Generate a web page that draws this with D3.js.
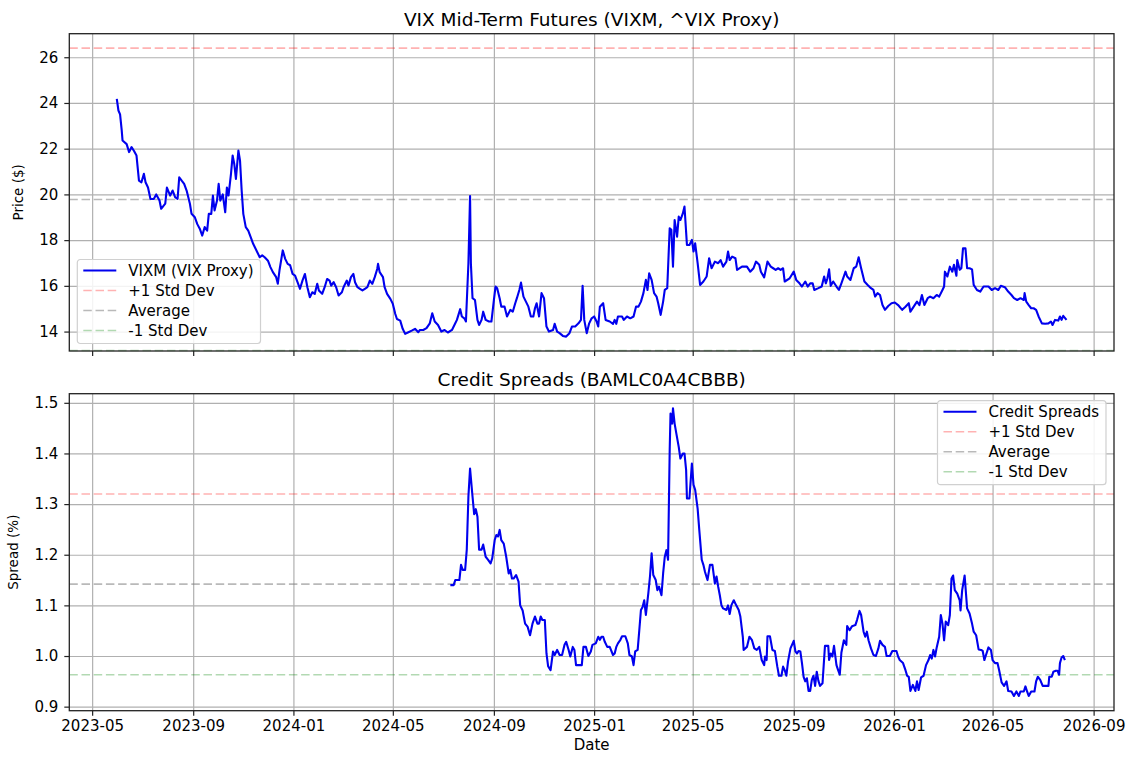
<!DOCTYPE html>
<html>
<head>
<meta charset="utf-8">
<script src="https://cdn.jsdelivr.net/npm/d3@7"></script>
<style>
  body { margin: 0; background: #fff; }
  text { font-family: "DejaVu Sans", sans-serif; fill: #000; }
</style>
</head>
<body>
<svg id="chart" width="1130" height="766"></svg>
<script>
// VIXM closing price
const vixSeries = [
  ["2023-05-31",24.18],["2023-06-02",23.67],["2023-06-04",23.5],["2023-06-06",22.8],["2023-06-07",22.36],["2023-06-12",22.2],
  ["2023-06-15",21.85],["2023-06-18",22.07],["2023-06-21",21.9],["2023-06-24",21.7],["2023-06-27",20.6],["2023-06-30",20.53],
  ["2023-07-03",20.9],["2023-07-05",20.53],["2023-07-08",20.3],["2023-07-11",19.8],["2023-07-15",19.8],["2023-07-18",20.0],
  ["2023-07-22",19.73],["2023-07-24",19.37],["2023-07-29",19.6],["2023-07-31",20.3],["2023-08-04",19.95],["2023-08-07",20.17],
  ["2023-08-10",19.88],["2023-08-13",19.8],["2023-08-15",20.75],["2023-08-18",20.6],["2023-08-21",20.46],["2023-08-24",20.17],
  ["2023-08-28",19.59],["2023-08-30",19.15],["2023-09-03",19.0],["2023-09-06",18.7],["2023-09-09",18.5],["2023-09-12",18.2],
  ["2023-09-15",18.57],["2023-09-18",18.42],["2023-09-20",19.15],["2023-09-23",19.15],["2023-09-25",19.95],["2023-09-27",19.3],
  ["2023-09-30",19.73],["2023-10-02",20.46],["2023-10-04",19.73],["2023-10-07",20.0],["2023-10-10",19.22],["2023-10-12",20.3],
  ["2023-10-14",19.95],["2023-10-17",20.9],["2023-10-19",21.7],["2023-10-21",21.33],["2023-10-23",20.68],["2023-10-26",21.92],
  ["2023-10-28",21.48],["2023-10-30",20.17],["2023-11-01",19.15],["2023-11-04",18.57],["2023-11-07",18.42],["2023-11-10",18.13],
  ["2023-11-13",17.84],["2023-11-17",17.55],["2023-11-21",17.25],["2023-11-24",17.33],["2023-11-27",17.25],["2023-12-01",17.1],
  ["2023-12-04",16.82],["2023-12-07",16.6],["2023-12-11",16.38],["2023-12-13",16.09],["2023-12-15",16.67],["2023-12-19",17.55],
  ["2023-12-22",17.18],["2023-12-25",16.96],["2023-12-28",16.9],["2023-12-31",16.52],["2024-01-03",16.45],["2024-01-06",16.16],
  ["2024-01-09",15.87],["2024-01-12",16.23],["2024-01-15",16.52],["2024-01-18",15.94],["2024-01-21",15.5],["2024-01-24",15.72],
  ["2024-01-27",15.65],["2024-01-30",16.09],["2024-02-01",15.8],["2024-02-05",15.65],["2024-02-08",15.94],["2024-02-11",16.3],
  ["2024-02-14",16.23],["2024-02-16",16.01],["2024-02-19",16.16],["2024-02-22",15.94],["2024-02-25",15.58],["2024-02-29",15.72],
  ["2024-03-02",15.94],["2024-03-06",16.23],["2024-03-08",16.01],["2024-03-11",16.38],["2024-03-14",16.52],["2024-03-16",16.16],
  ["2024-03-19",15.94],["2024-03-22",15.87],["2024-03-25",15.8],["2024-03-28",15.87],["2024-03-31",15.94],["2024-04-03",16.23],
  ["2024-04-06",16.09],["2024-04-09",16.38],["2024-04-12",16.74],["2024-04-13",16.96],["2024-04-15",16.6],["2024-04-19",16.38],
  ["2024-04-21",15.94],["2024-04-24",15.65],["2024-04-28",15.43],["2024-05-01",15.21],["2024-05-04",14.77],["2024-05-06",14.55],
  ["2024-05-10",14.48],["2024-05-13",14.12],["2024-05-16",13.9],["2024-05-20",13.97],["2024-05-24",14.04],["2024-05-28",14.12],
  ["2024-06-01",13.97],["2024-06-03",14.07],["2024-06-07",14.07],["2024-06-11",14.15],["2024-06-15",14.36],["2024-06-18",14.8],
  ["2024-06-21",14.44],["2024-06-25",14.29],["2024-06-29",14.0],["2024-07-03",14.07],["2024-07-07",13.96],["2024-07-12",14.07],
  ["2024-07-16",14.36],["2024-07-18",14.51],["2024-07-22",14.98],["2024-07-24",14.66],["2024-07-27",14.58],["2024-07-29",14.44],
  ["2024-08-01",16.99],["2024-08-03",19.93],["2024-08-04",16.99],["2024-08-06",15.46],["2024-08-09",15.38],["2024-08-12",14.51],
  ["2024-08-14",14.29],["2024-08-17",14.51],["2024-08-19",14.87],["2024-08-22",14.51],["2024-08-26",14.44],["2024-08-29",14.44],
  ["2024-09-01",15.38],["2024-09-03",15.97],["2024-09-05",15.9],["2024-09-08",15.46],["2024-09-10",15.09],["2024-09-14",15.09],
  ["2024-09-17",14.66],["2024-09-21",14.95],["2024-09-24",14.87],["2024-09-27",15.24],["2024-09-29",15.46],["2024-10-02",15.82],
  ["2024-10-04",16.14],["2024-10-07",15.53],["2024-10-10",15.31],["2024-10-13",15.09],["2024-10-16",14.66],["2024-10-19",14.66],
  ["2024-10-21",15.02],["2024-10-23",15.24],["2024-10-26",14.66],["2024-10-29",15.68],["2024-11-01",15.46],["2024-11-04",14.22],
  ["2024-11-07",14.0],["2024-11-12",14.07],["2024-11-14",14.34],["2024-11-17",14.0],["2024-11-20",13.93],["2024-11-24",13.81],
  ["2024-11-28",13.78],["2024-12-02",13.93],["2024-12-05",14.22],["2024-12-09",14.22],["2024-12-13",14.36],["2024-12-16",14.51],
  ["2024-12-18",16.0],["2024-12-20",14.51],["2024-12-23",13.93],["2024-12-26",14.36],["2024-12-29",14.58],["2025-01-01",14.66],
  ["2025-01-04",14.44],["2025-01-06",14.22],["2025-01-08",15.09],["2025-01-12",15.24],["2025-01-15",14.51],["2025-01-20",14.44],
  ["2025-01-24",14.34],["2025-01-26",14.51],["2025-01-28",14.34],["2025-01-30",14.66],["2025-02-04",14.66],["2025-02-06",14.51],
  ["2025-02-10",14.66],["2025-02-14",14.58],["2025-02-18",14.66],["2025-02-21",15.09],["2025-02-24",15.09],["2025-02-27",15.31],
  ["2025-03-02",15.68],["2025-03-05",16.26],["2025-03-07",15.82],["2025-03-09",16.55],["2025-03-12",16.26],["2025-03-15",15.68],
  ["2025-03-18",15.53],["2025-03-20",15.24],["2025-03-23",14.73],["2025-03-26",15.31],["2025-03-28",15.82],["2025-03-31",15.9],
  ["2025-04-03",18.52],["2025-04-05",18.45],["2025-04-07",16.84],["2025-04-09",18.88],["2025-04-12",18.15],["2025-04-14",19.03],
  ["2025-04-16",18.88],["2025-04-19",19.17],["2025-04-21",19.47],["2025-04-24",17.79],["2025-04-27",17.79],["2025-04-30",18.01],
  ["2025-05-02",17.5],["2025-05-04",17.86],["2025-05-07",16.99],["2025-05-10",16.04],["2025-05-14",16.19],["2025-05-18",16.41],
  ["2025-05-21",17.21],["2025-05-24",16.77],["2025-05-28",17.06],["2025-06-01",16.99],["2025-06-04",17.13],["2025-06-07",16.84],
  ["2025-06-11",17.06],["2025-06-13",17.5],["2025-06-15",17.13],["2025-06-18",17.28],["2025-06-22",17.21],["2025-06-24",16.7],
  ["2025-06-30",16.84],["2025-07-06",16.84],["2025-07-10",16.62],["2025-07-14",16.77],["2025-07-17",17.06],["2025-07-21",16.92],
  ["2025-07-23",16.62],["2025-07-27",16.37],["2025-07-31",17.06],["2025-08-04",16.84],["2025-08-07",16.77],["2025-08-10",16.7],
  ["2025-08-13",16.77],["2025-08-16",16.7],["2025-08-19",16.77],["2025-08-21",16.19],["2025-08-27",16.33],["2025-09-01",16.62],
  ["2025-09-04",16.26],["2025-09-08",16.11],["2025-09-11",15.97],["2025-09-15",16.19],["2025-09-18",15.97],["2025-09-21",16.11],
  ["2025-09-24",16.11],["2025-09-26",15.82],["2025-10-01",15.9],["2025-10-05",15.97],["2025-10-08",16.41],["2025-10-10",16.11],
  ["2025-10-12",16.33],["2025-10-14",16.72],["2025-10-16",16.0],["2025-10-19",16.19],["2025-10-23",15.97],["2025-10-26",15.82],
  ["2025-10-29",16.11],["2025-11-03",16.62],["2025-11-05",16.41],["2025-11-09",16.26],["2025-11-13",16.77],["2025-11-16",16.84],
  ["2025-11-19",17.25],["2025-11-22",16.77],["2025-11-26",16.19],["2025-11-30",16.04],["2025-12-04",15.9],["2025-12-07",15.82],
  ["2025-12-09",15.53],["2025-12-12",15.68],["2025-12-15",15.6],["2025-12-18",15.16],["2025-12-21",14.95],["2025-12-25",15.12],
  ["2025-12-29",15.24],["2026-01-02",15.27],["2026-01-06",15.16],["2026-01-11",14.95],["2026-01-15",15.09],["2026-01-19",15.24],
  ["2026-01-21",14.87],["2026-01-25",15.09],["2026-01-29",15.31],["2026-02-01",15.16],["2026-02-04",15.6],["2026-02-07",15.16],
  ["2026-02-11",15.46],["2026-02-14",15.53],["2026-02-18",15.46],["2026-02-22",15.6],["2026-02-25",15.53],["2026-03-01",15.82],
  ["2026-03-03",15.97],["2026-03-04",16.62],["2026-03-07",16.41],["2026-03-10",16.84],["2026-03-13",16.62],["2026-03-15",16.92],
  ["2026-03-18",16.44],["2026-03-19",17.13],["2026-03-22",16.7],["2026-03-24",16.77],["2026-03-26",17.64],["2026-03-29",17.64],
  ["2026-03-31",16.77],["2026-04-03",16.77],["2026-04-06",16.72],["2026-04-08",16.04],["2026-04-12",15.82],["2026-04-16",15.75],
  ["2026-04-20",15.97],["2026-04-26",15.97],["2026-04-30",15.82],["2026-05-04",15.9],["2026-05-08",15.82],["2026-05-11",16.0],
  ["2026-05-16",15.94],["2026-05-20",15.75],["2026-05-24",15.6],["2026-05-27",15.46],["2026-05-31",15.38],["2026-06-04",15.46],
  ["2026-06-08",15.38],["2026-06-09",15.68],["2026-06-11",15.31],["2026-06-14",15.16],["2026-06-17",15.02],["2026-06-20",15.02],
  ["2026-06-23",14.95],["2026-06-26",14.66],["2026-06-30",14.36],["2026-07-04",14.34],["2026-07-08",14.36],["2026-07-11",14.44],
  ["2026-07-13",14.29],["2026-07-16",14.51],["2026-07-20",14.48],["2026-07-22",14.66],["2026-07-24",14.51],["2026-07-26",14.69],
  ["2026-07-30",14.51]
];

// BAMLC0A4CBBB option-adjusted spread
const creditSeries = [
  ["2024-07-10",1.14],["2024-07-14",1.14],["2024-07-16",1.15],["2024-07-21",1.15],["2024-07-23",1.18],["2024-07-25",1.17],
  ["2024-07-28",1.17],["2024-07-30",1.21],["2024-08-01",1.315],["2024-08-03",1.37],["2024-08-06",1.315],["2024-08-08",1.28],
  ["2024-08-10",1.29],["2024-08-12",1.275],["2024-08-14",1.21],["2024-08-17",1.21],["2024-08-19",1.22],["2024-08-22",1.196],
  ["2024-08-25",1.19],["2024-08-28",1.183],["2024-08-30",1.193],["2024-09-02",1.229],["2024-09-04",1.239],["2024-09-06",1.236],
  ["2024-09-08",1.249],["2024-09-10",1.229],["2024-09-13",1.222],["2024-09-16",1.196],["2024-09-19",1.163],["2024-09-21",1.17],
  ["2024-09-23",1.153],["2024-09-25",1.153],["2024-09-28",1.16],["2024-10-01",1.147],["2024-10-03",1.10],["2024-10-06",1.09],
  ["2024-10-09",1.064],["2024-10-12",1.058],["2024-10-15",1.041],["2024-10-18",1.064],["2024-10-21",1.078],["2024-10-24",1.064],
  ["2024-10-26",1.064],["2024-10-28",1.078],["2024-10-30",1.071],["2024-11-02",1.071],["2024-11-04",1.005],["2024-11-06",0.98],
  ["2024-11-09",0.972],["2024-11-12",1.009],["2024-11-14",1.002],["2024-11-17",1.012],["2024-11-20",1.002],["2024-11-23",1.002],
  ["2024-11-26",1.022],["2024-11-28",1.028],["2024-12-01",1.012],["2024-12-03",0.999],["2024-12-06",1.018],["2024-12-08",1.012],
  ["2024-12-10",0.982],["2024-12-14",0.982],["2024-12-17",0.982],["2024-12-19",1.018],["2024-12-22",1.018],["2024-12-25",1.0],
  ["2024-12-28",1.009],["2024-12-30",1.022],["2025-01-03",1.025],["2025-01-06",1.038],["2025-01-08",1.032],["2025-01-10",1.038],
  ["2025-01-12",1.038],["2025-01-14",1.028],["2025-01-17",1.018],["2025-01-20",1.018],["2025-01-24",1.002],["2025-01-26",1.005],
  ["2025-01-28",1.018],["2025-01-30",1.025],["2025-02-02",1.032],["2025-02-04",1.039],["2025-02-08",1.039],["2025-02-11",1.025],
  ["2025-02-13",1.002],["2025-02-16",0.999],["2025-02-18",0.982],["2025-02-20",1.009],["2025-02-23",1.012],["2025-02-25",1.051],
  ["2025-02-27",1.091],["2025-03-01",1.097],["2025-03-03",1.11],["2025-03-05",1.081],["2025-03-08",1.124],["2025-03-10",1.157],
  ["2025-03-12",1.203],["2025-03-14",1.16],["2025-03-17",1.15],["2025-03-19",1.13],["2025-03-21",1.137],["2025-03-24",1.12],
  ["2025-03-26",1.163],["2025-03-28",1.196],["2025-03-30",1.209],["2025-04-01",1.19],["2025-04-03",1.407],["2025-04-04",1.479],
  ["2025-04-06",1.459],["2025-04-07",1.489],["2025-04-09",1.459],["2025-04-11",1.44],["2025-04-14",1.413],["2025-04-16",1.39],
  ["2025-04-19",1.4],["2025-04-21",1.4],["2025-04-23",1.367],["2025-04-24",1.311],["2025-04-27",1.311],["2025-04-30",1.38],
  ["2025-05-02",1.338],["2025-05-04",1.328],["2025-05-07",1.291],["2025-05-09",1.249],["2025-05-12",1.19],["2025-05-14",1.18],
  ["2025-05-16",1.166],["2025-05-19",1.15],["2025-05-22",1.18],["2025-05-25",1.18],["2025-05-28",1.143],["2025-05-30",1.157],
  ["2025-06-01",1.137],["2025-06-03",1.12],["2025-06-05",1.10],["2025-06-07",1.094],["2025-06-11",1.091],["2025-06-13",1.10],
  ["2025-06-15",1.083],["2025-06-17",1.10],["2025-06-20",1.11],["2025-06-23",1.10],["2025-06-26",1.091],["2025-06-28",1.078],
  ["2025-07-01",1.038],["2025-07-02",1.012],["2025-07-06",1.018],["2025-07-09",1.038],["2025-07-12",1.032],["2025-07-15",1.015],
  ["2025-07-18",1.012],["2025-07-21",1.018],["2025-07-24",0.992],["2025-07-27",0.982],["2025-07-28",0.999],["2025-07-30",0.992],
  ["2025-07-31",1.039],["2025-08-03",1.039],["2025-08-06",1.012],["2025-08-09",1.01],["2025-08-12",0.979],["2025-08-14",0.961],
  ["2025-08-17",0.961],["2025-08-19",0.979],["2025-08-21",0.972],["2025-08-23",0.961],["2025-08-25",0.989],["2025-08-28",1.015],
  ["2025-09-01",1.03],["2025-09-03",1.009],["2025-09-05",1.005],["2025-09-07",1.01],["2025-09-09",1.009],["2025-09-11",0.986],
  ["2025-09-13",0.959],["2025-09-15",0.95],["2025-09-17",0.956],["2025-09-19",0.931],["2025-09-21",0.931],["2025-09-23",0.953],
  ["2025-09-25",0.961],["2025-09-27",0.941],["2025-09-29",0.969],["2025-10-01",0.951],["2025-10-03",0.941],["2025-10-06",0.946],
  ["2025-10-09",1.02],["2025-10-13",1.02],["2025-10-14",0.992],["2025-10-16",1.005],["2025-10-18",0.999],["2025-10-20",1.02],
  ["2025-10-23",0.982],["2025-10-25",0.972],["2025-10-27",0.963],["2025-10-29",1.007],["2025-11-01",1.031],["2025-11-04",1.022],
  ["2025-11-05",1.059],["2025-11-08",1.051],["2025-11-11",1.059],["2025-11-15",1.061],["2025-11-17",1.071],["2025-11-20",1.089],
  ["2025-11-22",1.081],["2025-11-25",1.048],["2025-11-27",1.038],["2025-11-29",1.048],["2025-12-01",1.031],["2025-12-04",1.015],
  ["2025-12-07",1.002],["2025-12-10",1.0],["2025-12-13",1.015],["2025-12-15",1.03],["2025-12-18",1.022],["2025-12-21",1.018],
  ["2025-12-23",1.0],["2025-12-27",1.0],["2025-12-30",1.01],["2026-01-04",1.01],["2026-01-06",0.999],["2026-01-08",0.992],
  ["2026-01-12",0.986],["2026-01-15",0.972],["2026-01-17",0.961],["2026-01-19",0.959],["2026-01-21",0.931],["2026-01-24",0.943],
  ["2026-01-27",0.931],["2026-01-29",0.95],["2026-01-31",0.933],["2026-02-03",0.958],["2026-02-06",0.961],["2026-02-09",0.982],
  ["2026-02-12",0.992],["2026-02-14",1.002],["2026-02-16",0.995],["2026-02-18",1.012],["2026-02-20",0.999],["2026-02-22",1.017],
  ["2026-02-25",1.038],["2026-02-27",1.081],["2026-03-01",1.064],["2026-03-03",1.031],["2026-03-05",1.068],["2026-03-08",1.061],
  ["2026-03-10",1.081],["2026-03-12",1.153],["2026-03-14",1.159],["2026-03-16",1.13],["2026-03-19",1.123],["2026-03-22",1.11],
  ["2026-03-23",1.09],["2026-03-25",1.13],["2026-03-28",1.159],["2026-03-31",1.094],["2026-04-03",1.084],["2026-04-06",1.064],
  ["2026-04-08",1.048],["2026-04-11",1.041],["2026-04-14",1.013],["2026-04-17",1.012],["2026-04-19",1.01],["2026-04-21",0.992],
  ["2026-04-23",1.002],["2026-04-26",1.017],["2026-04-29",1.012],["2026-05-01",0.992],["2026-05-04",0.986],["2026-05-07",0.986],
  ["2026-05-09",0.972],["2026-05-12",0.948],["2026-05-15",0.941],["2026-05-18",0.95],["2026-05-20",0.931],["2026-05-24",0.93],
  ["2026-05-27",0.921],["2026-05-30",0.93],["2026-06-02",0.921],["2026-06-04",0.93],["2026-06-08",0.93],["2026-06-10",0.94],
  ["2026-06-12",0.93],["2026-06-14",0.921],["2026-06-17",0.93],["2026-06-21",0.93],["2026-06-23",0.95],["2026-06-25",0.959],
  ["2026-06-28",0.953],["2026-07-01",0.941],["2026-07-05",0.941],["2026-07-08",0.941],["2026-07-09",0.959],["2026-07-12",0.959],
  ["2026-07-14",0.969],["2026-07-17",0.971],["2026-07-19",0.971],["2026-07-21",0.963],["2026-07-22",0.986],["2026-07-24",0.997],
  ["2026-07-26",1.0],["2026-07-28",0.992]
];

// +1 std dev, average, -1 std dev
const vixBands = [26.40, 19.78, 13.17];
const creditBands = [1.32, 1.142, 0.963];

const vixYLim = [13.15, 27.03];
const creditYLim = [0.892, 1.518];

const dateTicks = ["2023-05-01","2023-09-01","2024-01-01","2024-05-01","2024-09-01","2025-01-01",
                   "2025-05-01","2025-09-01","2026-01-01","2026-05-01","2026-09-01"];
const vixTicks = [14, 16, 18, 20, 22, 24, 26];
const creditTicks = [0.9, 1.0, 1.1, 1.2, 1.3, 1.4, 1.5];

const bandNames = ["+1 Std Dev", "Average", "-1 Std Dev"];
const bandColors = ["rgba(255,0,0,0.3)", "rgba(128,128,128,0.55)", "rgba(0,128,0,0.3)"];

const parse = d3.timeParse("%Y-%m-%d");
const svg = d3.select("#chart");

const left = 69.3, right = 1114;

// shared x: data extent plus 5% margin each side, like matplotlib
const allDates = vixSeries.concat(creditSeries).map(d => parse(d[0]));
const [dMin, dMax] = d3.extent(allDates);
const pad = (dMax - dMin) * 0.05;
const x = d3.scaleTime()
  .domain([new Date(+dMin - pad), new Date(+dMax + pad)])
  .range([left, right]);

function drawPanel(opts) {
  const { top, bottom, series, bands, ylim, yTicks, yFmt, title, ylabel, lineName, legendPos, showX } = opts;
  const y = d3.scaleLinear().domain(ylim).range([bottom, top]);
  const g = svg.append("g");

  // grid
  g.append("g")
    .attr("transform", `translate(0,${bottom})`)
    .call(d3.axisBottom(x).tickValues(dateTicks.map(parse)).tickSize(-(bottom - top)).tickFormat(""))
    .call(a => a.select(".domain").remove())
    .call(a => a.selectAll("line").attr("stroke", "#b0b0b0").attr("stroke-width", 1.2));
  g.append("g")
    .attr("transform", `translate(${left},0)`)
    .call(d3.axisLeft(y).tickValues(yTicks).tickSize(-(right - left)).tickFormat(""))
    .call(a => a.select(".domain").remove())
    .call(a => a.selectAll("line").attr("stroke", "#b0b0b0").attr("stroke-width", 1.2));

  // std dev bands
  g.selectAll(".band")
    .data(bands)
    .enter().append("line")
    .attr("x1", left).attr("x2", right)
    .attr("y1", d => y(d)).attr("y2", d => y(d))
    .attr("stroke", (d, i) => bandColors[i])
    .attr("stroke-width", 1.6)
    .attr("stroke-dasharray", "8.5,3.7");

  // series
  const line = d3.line().x(d => x(parse(d[0]))).y(d => y(d[1]));
  g.append("path")
    .datum(series)
    .attr("d", line)
    .attr("fill", "none")
    .attr("stroke", "#0000ee")
    .attr("stroke-width", 2.1)
    .attr("stroke-linejoin", "round");

  // frame
  g.append("rect")
    .attr("x", left).attr("y", top)
    .attr("width", right - left).attr("height", bottom - top)
    .attr("fill", "none").attr("stroke", "#222").attr("stroke-width", 1.3);

  // axes
  const xAxis = g.append("g")
    .attr("transform", `translate(0,${bottom})`)
    .call(d3.axisBottom(x).tickValues(dateTicks.map(parse)).tickSize(5).tickPadding(5)
      .tickFormat(showX ? d3.timeFormat("%Y-%m") : ""));
  xAxis.select(".domain").remove();
  xAxis.selectAll("line").attr("stroke", "#222").attr("stroke-width", 1.2);
  xAxis.selectAll("text").attr("font-size", 15).attr("fill", "#111");

  const yAxis = g.append("g")
    .attr("transform", `translate(${left},0)`)
    .call(d3.axisLeft(y).tickValues(yTicks).tickSize(5).tickPadding(6).tickFormat(yFmt));
  yAxis.select(".domain").remove();
  yAxis.selectAll("line").attr("stroke", "#222").attr("stroke-width", 1.2);
  yAxis.selectAll("text").attr("font-size", 15).attr("fill", "#111");

  // title and label
  g.append("text")
    .attr("x", (left + right) / 2).attr("y", top - 8)
    .attr("text-anchor", "middle").attr("font-size", 18.5)
    .text(title);
  g.append("text")
    .attr("transform", `translate(${ylabel.x},${(top + bottom) / 2}) rotate(-90)`)
    .attr("text-anchor", "middle").attr("font-size", 13.5)
    .text(ylabel.text);

  // legend
  const entries = [{ name: lineName, color: "#0000ee", dash: null, w: 2.1 }]
    .concat(bandNames.map((n, i) => ({ name: n, color: bandColors[i], dash: "8.5,3.7", w: 1.6 })));
  const lg = g.append("g");
  const box = lg.append("rect")
    .attr("rx", 3).attr("fill", "rgba(255,255,255,0.85)")
    .attr("stroke", "#d0d0d0").attr("stroke-width", 1.2);
  const rows = lg.selectAll(".row").data(entries).enter().append("g")
    .attr("transform", (d, i) => `translate(0,${11 + i * 20})`);
  rows.append("line")
    .attr("x1", 6).attr("x2", 39)
    .attr("stroke", d => d.color).attr("stroke-width", d => d.w)
    .attr("stroke-dasharray", d => d.dash);
  rows.append("text")
    .attr("x", 51).attr("y", 5.5).attr("font-size", 15)
    .text(d => d.name);
  const textW = d3.max(rows.selectAll("text").nodes(), n => n.getComputedTextLength());
  const bw = 51 + textW + 7, bh = 84;
  box.attr("width", bw).attr("height", bh);
  const lx = legendPos === "lower left" ? left + 8 : right - 8 - bw;
  const ly = legendPos === "lower left" ? bottom - 7.5 - bh : top + 7;
  lg.attr("transform", `translate(${lx},${ly})`);
}

drawPanel({
  top: 33.7, bottom: 351,
  series: vixSeries, bands: vixBands, ylim: vixYLim, yTicks: vixTicks, yFmt: d3.format("d"),
  title: "VIX Mid-Term Futures (VIXM, ^VIX Proxy)",
  ylabel: { text: "Price ($)", x: 23 },
  lineName: "VIXM (VIX Proxy)", legendPos: "lower left", showX: false
});

drawPanel({
  top: 393.7, bottom: 710.7,
  series: creditSeries, bands: creditBands, ylim: creditYLim, yTicks: creditTicks, yFmt: d3.format(".1f"),
  title: "Credit Spreads (BAMLC0A4CBBB)",
  ylabel: { text: "Spread (%)", x: 18 },
  lineName: "Credit Spreads", legendPos: "upper right", showX: true
});

svg.append("text")
  .attr("x", (left + right) / 2).attr("y", 750)
  .attr("text-anchor", "middle").attr("font-size", 15)
  .text("Date");
</script>
</body>
</html>
